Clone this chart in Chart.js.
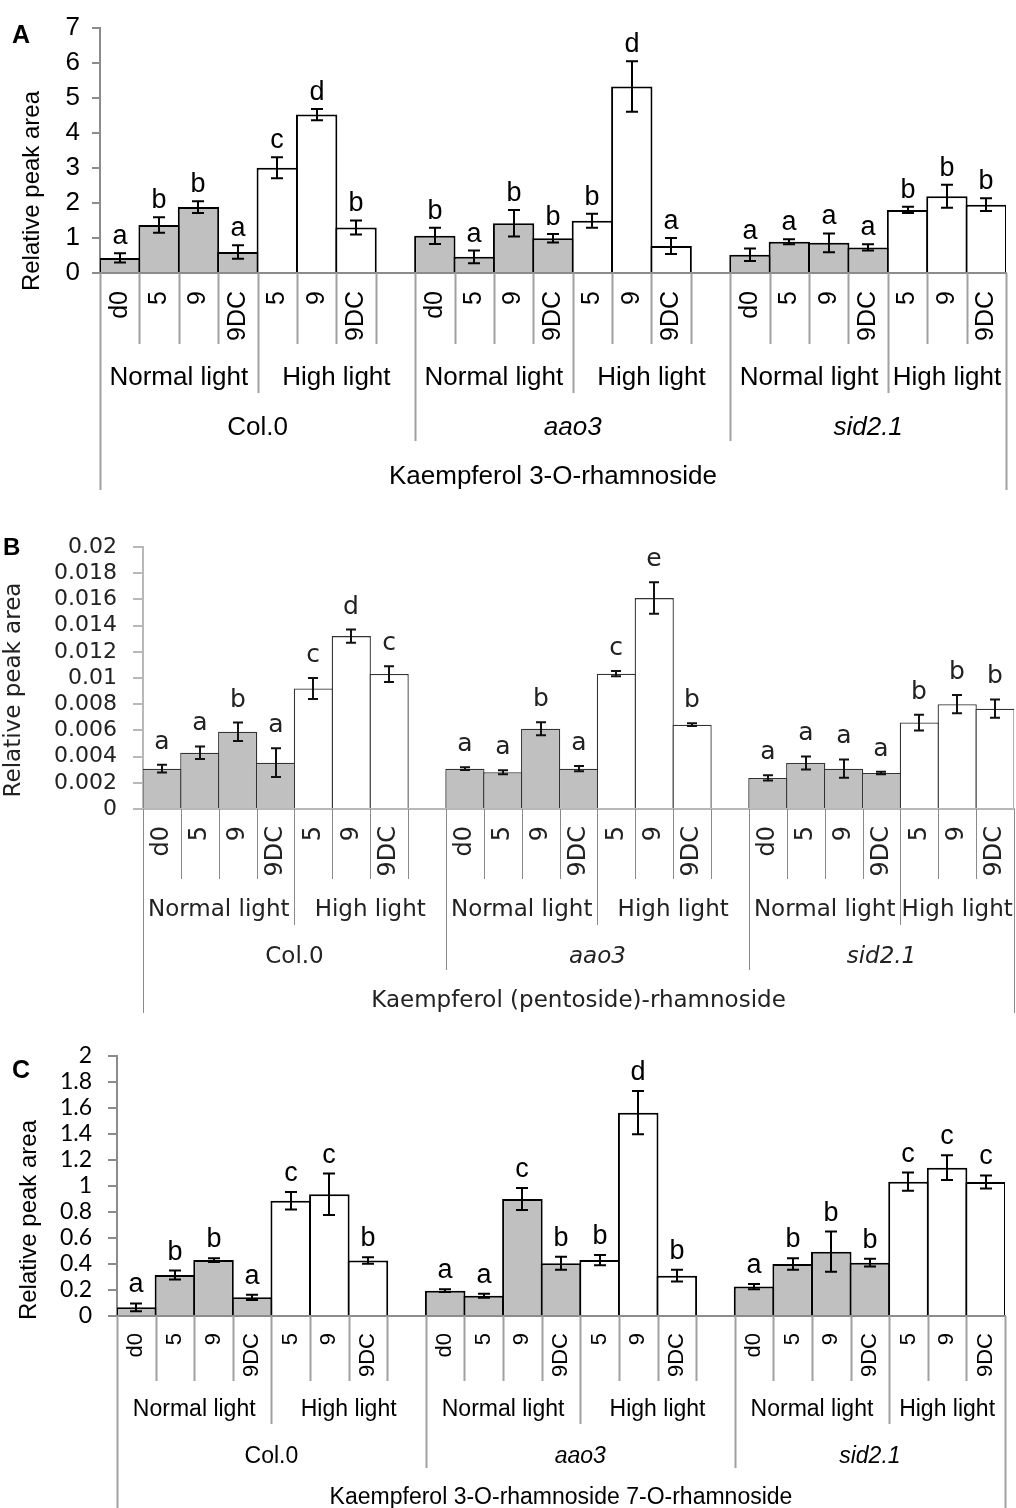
<!DOCTYPE html>
<html>
<head>
<meta charset="utf-8">
<script src="https://cdn.jsdelivr.net/npm/chart.js@4.4.0/dist/chart.umd.min.js"></script>
<style>
  body { margin: 0; background: #fff; }
  canvas { position: absolute; left: 0; }
</style>
</head>
<body>
<canvas id="chartA" width="1016" height="505" style="top:0px"></canvas>
<canvas id="chartB" width="1016" height="505" style="top:515px"></canvas>
<canvas id="chartC" width="1016" height="488" style="top:1020px"></canvas>
<script>
// sampling days, light regimes and genotypes (x axis levels)
const timepoints = ["d0", "5", "9", "9DC", "5", "9", "9DC"];
const lightGroups = ["Normal light", "High light"];
const normalCount = 4; // first four days are normal light
const genotypes = ["Col.0", "aao3", "sid2.1"];

// A: Kaempferol 3-O-rhamnoside
const rhaMeans = [0.43, 1.37, 1.88, 0.60, 3.00, 4.52, 1.30,
                  1.06, 0.46, 1.42, 0.99, 1.49, 5.32, 0.77,
                  0.52, 0.89, 0.86, 0.73, 1.80, 2.19, 1.95];
const rhaErrors = [0.13, 0.22, 0.17, 0.19, 0.30, 0.16, 0.20,
                   0.23, 0.18, 0.38, 0.12, 0.20, 0.72, 0.23,
                   0.18, 0.07, 0.27, 0.09, 0.09, 0.33, 0.18];
const rhaLetters = ["a", "b", "b", "a", "c", "d", "b",
                    "b", "a", "b", "b", "b", "d", "a",
                    "a", "a", "a", "a", "b", "b", "b"];
const rhaTicks = ["0", "1", "2", "3", "4", "5", "6", "7"];

// B: Kaempferol (pentoside)-rhamnoside
const pentMeans = [0.00308, 0.0043, 0.0059, 0.00354, 0.0092, 0.0132, 0.0103,
                   0.00308, 0.0028, 0.00613, 0.00308, 0.01033, 0.0161, 0.00644,
                   0.00237, 0.00351, 0.00308, 0.00275, 0.0066, 0.0080, 0.00766];
const pentErrors = [0.0003, 0.00048, 0.0007, 0.0011, 0.0008, 0.0005, 0.0006,
                    0.0001, 0.00015, 0.0005, 0.0002, 0.0002, 0.0012, 0.0001,
                    0.0002, 0.0005, 0.0007, 0.0001, 0.0006, 0.0007, 0.0007];
const pentLetters = ["a", "a", "b", "a", "c", "d", "c",
                     "a", "a", "b", "a", "c", "e", "b",
                     "a", "a", "a", "a", "b", "b", "b"];
const pentTicks = ["0", "0.002", "0.004", "0.006", "0.008", "0.01",
                   "0.012", "0.014", "0.016", "0.018", "0.02"];

// C: Kaempferol 3-O-rhamnoside 7-O-rhamnoside
const diRhaMeans = [0.067, 0.315, 0.43, 0.144, 0.887, 0.936, 0.426,
                    0.195, 0.156, 0.90, 0.405, 0.43, 1.564, 0.31,
                    0.226, 0.40, 0.495, 0.41, 1.033, 1.141, 1.031];
const diRhaErrors = [0.03, 0.035, 0.015, 0.02, 0.067, 0.16, 0.025,
                     0.01, 0.015, 0.085, 0.05, 0.04, 0.166, 0.045,
                     0.02, 0.045, 0.155, 0.03, 0.07, 0.095, 0.05];
const diRhaLetters = ["a", "b", "b", "a", "c", "c", "b",
                      "a", "a", "c", "b", "b", "d", "b",
                      "a", "b", "b", "b", "c", "c", "c"];
const diRhaTicks = ["0", "0.2", "0.4", "0.6", "0.8", "1", "1.2",
                    "1.4", "1.6", "1.8", "2"];

const groupSize = timepoints.length;
const slotSize = groupSize + 1; // one empty slot between genotypes

// spread 21 values over 23 category slots, with a blank after each genotype but the last
function toSlots(arr) {
  const out = [];
  genotypes.forEach((g, gi) => {
    out.push(...arr.slice(gi * groupSize, (gi + 1) * groupSize));
    if (gi < genotypes.length - 1) out.push(null);
  });
  return out;
}

const slotLabels = toSlots(genotypes.flatMap(() => timepoints)).map(l => l === null ? "" : l);
const isNormal = i => (i % slotSize) < normalCount;

const ARIAL = '"Liberation Sans", Arial, sans-serif';
const DEJAVU = '"DejaVu Sans", Verdana, sans-serif';

function panelDecor(spec) {
  return {
    id: "panelDecor",
    afterDatasetsDraw(chart) {
      const { ctx, scales: { x, y } } = chart;
      const means = toSlots(spec.means);
      const errs = toSlots(spec.errors);
      const letters = toSlots(spec.letters);
      ctx.save();
      ctx.strokeStyle = spec.errColor;
      ctx.lineWidth = spec.errWidth;
      ctx.fillStyle = spec.textColor;
      ctx.font = spec.letterFont;
      ctx.textAlign = "center";
      ctx.textBaseline = "alphabetic";
      means.forEach((m, i) => {
        if (m === null) return;
        const cx = Math.round(x.getPixelForValue(i));
        const hi = y.getPixelForValue(m + errs[i]);
        const lo = y.getPixelForValue(Math.max(0, m - errs[i]));
        ctx.beginPath();
        ctx.moveTo(cx, hi); ctx.lineTo(cx, lo);
        ctx.moveTo(cx - spec.cap, hi); ctx.lineTo(cx + spec.cap, hi);
        ctx.moveTo(cx - spec.cap, lo); ctx.lineTo(cx + spec.cap, lo);
        ctx.stroke();
        ctx.fillText(letters[i], cx, hi - spec.letterGap);
      });
      ctx.restore();
    },
    afterDraw(chart) {
      const { ctx, scales: { x } } = chart;
      const n = slotLabels.length;
      const axisY = x.top;
      const half = (x.getPixelForValue(1) - x.getPixelForValue(0)) / 2;
      const edge = i => x.getPixelForValue(0) - half + i * 2 * half;
      const rows = spec.rows;

      ctx.save();
      // table lines of the category axis
      ctx.strokeStyle = spec.lineColor;
      ctx.lineWidth = spec.lineWidth;
      ctx.beginPath();
      for (let i = 0; i <= n; i++) {
        let depth = rows[0];
        if (i === 0 || i === n) depth = rows[3];
        else if (i % slotSize === 0) depth = rows[2];
        else if (i % slotSize === normalCount) depth = rows[1];
        const ex = Math.round(edge(i)) + 0.5;
        ctx.moveTo(ex, axisY);
        ctx.lineTo(ex, axisY + depth);
      }
      ctx.stroke();

      ctx.fillStyle = spec.textColor;
      // sampling days, rotated
      ctx.font = spec.dayFont;
      ctx.textAlign = "right";
      ctx.textBaseline = "middle";
      slotLabels.forEach((lab, i) => {
        if (!lab) return;
        ctx.save();
        ctx.translate(x.getPixelForValue(i), axisY + spec.dayTop);
        ctx.rotate(-Math.PI / 2);
        ctx.fillText(lab, 0, 0);
        ctx.restore();
      });

      ctx.textAlign = "center";
      ctx.textBaseline = "alphabetic";
      // light regimes
      ctx.font = spec.catFont;
      genotypes.forEach((g, gi) => {
        const start = gi * slotSize;
        const end = Math.min(start + slotSize, n);
        const spans = [[start, start + normalCount], [start + normalCount, end]];
        spans.forEach(([a, b], li) => {
          ctx.fillText(lightGroups[li], (edge(a) + edge(b)) / 2, axisY + spec.lightBase);
        });
      });
      // genotypes, mutants in italics
      genotypes.forEach((g, gi) => {
        const start = gi * slotSize;
        const end = Math.min(start + slotSize, n);
        ctx.font = (gi > 0 ? "italic " : "") + spec.catFont;
        ctx.fillText(g, (edge(start) + edge(end)) / 2, axisY + spec.genoBase);
      });
      // compound name
      ctx.font = spec.catFont;
      ctx.fillText(spec.compound, (edge(0) + edge(n)) / 2, axisY + spec.compoundBase);

      // y title and panel tag
      ctx.font = spec.titleFont;
      ctx.textBaseline = "middle";
      ctx.save();
      ctx.translate(spec.titleX, spec.titleY);
      ctx.rotate(-Math.PI / 2);
      ctx.fillText("Relative peak area", 0, 0);
      ctx.restore();

      ctx.fillStyle = "#000";
      ctx.font = spec.tagFont;
      ctx.textAlign = "left";
      ctx.textBaseline = "alphabetic";
      ctx.fillText(spec.tag, spec.tagX, spec.tagY);
      ctx.restore();
    }
  };
}

function buildPanel(id, spec) {
  const canvas = document.getElementById(id);
  new Chart(canvas, {
    type: "bar",
    data: {
      labels: slotLabels,
      datasets: [{
        data: toSlots(spec.means),
        backgroundColor: c => isNormal(c.dataIndex) ? "#c0c0c0" : "#ffffff",
        borderColor: spec.barEdge,
        borderWidth: spec.barEdgeWidth,
        borderSkipped: "start",
        barPercentage: spec.barPct,
        categoryPercentage: 1
      }]
    },
    options: {
      responsive: false,
      animation: false,
      layout: { padding: { top: spec.top, right: canvas.width - spec.right, left: 0, bottom: 0 } },
      plugins: { legend: { display: false }, tooltip: { enabled: false } },
      scales: {
        x: {
          z: 1,
          grid: { display: true, drawOnChartArea: false, drawTicks: false },
          border: { color: spec.axisColor, width: spec.axisWidth },
          ticks: { display: false },
          afterFit: s => { s.height = canvas.height - spec.bottom; }
        },
        y: {
          min: 0,
          max: spec.max,
          ticks: {
            stepSize: spec.step,
            autoSkip: false,
            callback: (v, i) => spec.tickLabels[i],
            font: spec.tickFont,
            color: spec.textColor,
            padding: spec.tickPad
          },
          grid: {
            drawOnChartArea: false,
            drawTicks: true,
            tickLength: spec.tickLen,
            color: spec.axisColor,
            lineWidth: spec.axisWidth
          },
          border: { color: spec.axisColor, width: spec.axisWidth },
          afterFit: s => { s.width = spec.left; }
        }
      }
    },
    plugins: [panelDecor(spec)]
  });
}

buildPanel("chartA", {
  means: rhaMeans, errors: rhaErrors, letters: rhaLetters, tickLabels: rhaTicks,
  max: 7, step: 1, compound: "Kaempferol 3-O-rhamnoside", tag: "A",
  top: 16, bottom: 273, left: 100, right: 1006,
  barEdge: "#000", barEdgeWidth: 2, barPct: 1.05,
  axisColor: "#8c8c8c", axisWidth: 2, tickLen: 8, tickPad: 12,
  tickFont: { family: ARIAL, size: 26 }, textColor: "#000",
  errColor: "#000", errWidth: 2, cap: 6,
  letterFont: "27px " + ARIAL, letterGap: 9,
  lineColor: "#a0a0a0", lineWidth: 2,
  rows: [71, 120, 168, 217], dayTop: 18, lightBase: 112, genoBase: 162, compoundBase: 211,
  dayFont: "25px " + ARIAL, catFont: "26px " + ARIAL,
  titleFont: "24px " + ARIAL, titleX: 32, titleY: 191,
  tagFont: "bold 25px " + ARIAL, tagX: 12, tagY: 43
});

buildPanel("chartB", {
  means: pentMeans, errors: pentErrors, letters: pentLetters, tickLabels: pentTicks,
  max: 0.02, step: 0.002, compound: "Kaempferol (pentoside)-rhamnoside", tag: "B",
  top: 32, bottom: 294, left: 143, right: 1014,
  barEdge: "#333", barEdgeWidth: 1.3, barPct: 1.035,
  axisColor: "#b8b8b8", axisWidth: 2, tickLen: 10, tickPad: 16,
  tickFont: { family: DEJAVU, size: 22 }, textColor: "#222",
  errColor: "#111", errWidth: 2, cap: 5,
  letterFont: "25px " + DEJAVU, letterGap: 16,
  lineColor: "#8a8a8a", lineWidth: 1,
  rows: [70, 116, 161, 204], dayTop: 17, lightBase: 107, genoBase: 154, compoundBase: 198,
  dayFont: "24px " + DEJAVU, catFont: "23px " + DEJAVU,
  titleFont: "23px " + DEJAVU, titleX: 14, titleY: 175,
  tagFont: "bold 24px " + ARIAL, tagX: 3, tagY: 40
});

buildPanel("chartC", {
  means: diRhaMeans, errors: diRhaErrors, letters: diRhaLetters, tickLabels: diRhaTicks,
  max: 2, step: 0.2, compound: "Kaempferol 3-O-rhamnoside 7-O-rhamnoside", tag: "C",
  top: 36, bottom: 296, left: 117, right: 1005,
  barEdge: "#000", barEdgeWidth: 2, barPct: 1.05,
  axisColor: "#8c8c8c", axisWidth: 2, tickLen: 9, tickPad: 16,
  tickFont: { family: "Lato, sans-serif", size: 23 }, textColor: "#000",
  errColor: "#000", errWidth: 2, cap: 6,
  letterFont: "27px " + ARIAL, letterGap: 11,
  lineColor: "#a0a0a0", lineWidth: 2,
  rows: [65, 108, 152, 196], dayTop: 17, lightBase: 100, genoBase: 147, compoundBase: 188,
  dayFont: "22px " + ARIAL, catFont: "23px " + ARIAL,
  titleFont: "24px " + ARIAL, titleX: 29, titleY: 200,
  tagFont: "bold 25px " + ARIAL, tagX: 12, tagY: 58
});
</script>
</body>
</html>
